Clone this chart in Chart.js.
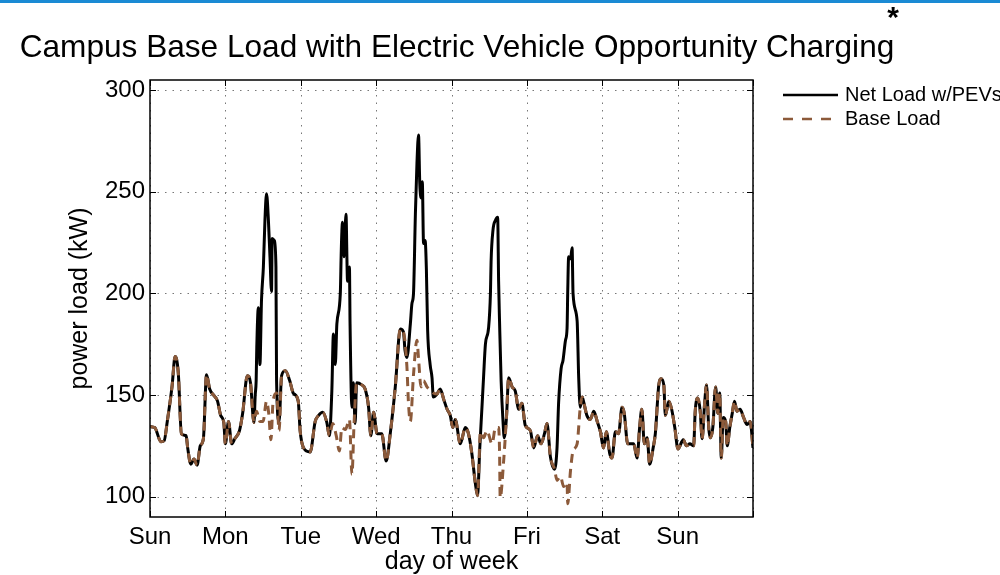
<!DOCTYPE html>
<html>
<head>
<meta charset="utf-8">
<script src="https://cdn.jsdelivr.net/npm/chart.js@4.4.1/dist/chart.umd.min.js"></script>
<style>
  body { margin: 0; background: #fff; }
  #wrap { width: 1000px; height: 575px; position: relative; }
</style>
</head>
<body>
<div id="wrap"><canvas id="load" width="1000" height="575"></canvas></div>
<script>
// day-of-week axis, hours from Sunday 00:00
const dayTicks = [0, 24, 48, 72, 96, 120, 144, 168, 192];
const dayLabels = ['Sun', 'Mon', 'Tue', 'Wed', 'Thu', 'Fri', 'Sat', 'Sun'];
const loadTicks = [100, 150, 200, 250, 300];

// campus base load (kW)
const baseHours = [
  0, 1.5, 3.5, 4.5, 5.5, 7, 8, 9, 10, 11.5, 12, 13, 14, 15, 16, 17, 18, 19, 20.5, 21.5, 22.5, 23.5,
  24, 25, 26, 27, 28.5, 29.5, 31, 32, 33.1, 33.9, 35, 36, 37.1, 37.8, 38.5, 39.2, 40.3, 41.1, 41.9, 43.1, 44.5, 45.6, 47.2,
  47.8, 48.9, 51, 52.6, 53.7, 55, 56.3, 57.1, 58.2, 59.3, 60.3, 61.1, 62.2, 63.5, 64.3, 65, 65.8, 67.4, 68.5, 69.6, 70.3, 71.2,
  72.3, 73.8, 75.2, 76.5, 78.1, 79.7, 80.7, 81.8, 82.3, 82.9, 83.9, 85, 85.5, 86.3, 87.1, 88.2, 89.2, 90.2, 91.4, 92.4, 93.5, 94.6, 95.6,
  96.4, 97.2, 98.8, 100.4, 101.4, 102.5, 103.6, 104.3, 105.2, 106.2, 107.3, 108.9, 110, 111, 111.3, 111.5, 112.6, 113.5, 114.2, 115.3, 116.3, 117.4, 118.4, 119.5,
  121.1, 122.2, 123.4, 124.5, 125.6, 126.4, 127.5, 128.8, 129.6, 130.7, 131.7, 132.8, 133, 133.9, 134.7, 136, 137, 137.6, 138.1, 139.1, 140.2, 141.3, 142.4, 143.4,
  144.4, 145.3, 146.4, 147.1, 148.2, 149.2, 150.3, 151, 152.1, 153.2, 154, 155.1, 155.9, 156.6, 157.4, 158.3, 159.1, 160.2, 160.9, 162, 162.7, 163.6, 164.1, 165.2, 166.1, 167.1,
  168.1, 169.8, 170.8, 171.9, 173.1, 173.6, 174.4, 175.2, 175.8, 176.6, 177.2, 177.9, 178.4, 179.2, 180.1, 180.8, 181.4, 181.9, 182.5, 183.3, 183.8, 184.6, 185.4, 186.1, 186.9, 187.9, 189, 190.1, 191.1, 192
];
const baseLoad = [
  134.5, 134, 127, 127.5, 137, 154, 169, 161, 131, 130, 124, 116, 118.5, 115.5, 125, 128.5, 160, 153, 149.5, 147, 140, 136.5,
  126, 137, 126, 128.5, 132.5, 141, 159.5, 156, 136.5, 142, 137, 137, 147, 141, 128, 147, 151, 132.5, 159.5, 162, 157, 151, 147,
  132.5, 124, 122, 137, 140, 141.5, 136.5, 130, 136, 130, 122.5, 134, 133, 138, 111, 137, 156, 155, 153, 144, 130, 141.5,
  131, 131, 117.5, 131, 154, 182.5, 181, 164, 146, 137, 160, 177, 168, 154, 157, 154, 152.5, 151, 150.5, 153, 148, 143, 140,
  134, 138, 126, 134, 131, 121, 106.5, 100.5, 132, 129, 132.5, 126, 134, 134, 122.5, 99.5, 117.5, 139, 158.5, 154, 152, 143, 146, 135,
  132.5, 124, 130, 126, 131, 136, 119.5, 113.5, 108, 110, 105, 107, 96.5, 113, 122.5, 126, 144, 149, 146.5, 140, 138, 142, 137, 132,
  124, 132, 121, 119, 132, 131, 144, 141, 126, 126, 126, 119, 134, 143, 126, 129, 116, 124, 131, 155, 158, 155, 140, 147, 143, 134,
  123.5, 128, 125, 126, 125, 142, 148.5, 142, 128.5, 146, 155, 134, 129, 134, 154, 141, 151, 119, 139, 137, 125, 134, 141, 147, 142, 143, 139, 135.5, 137, 124
];

// opportunity charging windows (hours) and the net load inside them (kW)
const chargeWindows = [[33.1, 41.9], [57.1, 65.8], [80.7, 91.4], [104.3, 113.5], [128.8, 137]];
const pevHours = [
  33.5, 33.8, 34, 34.5, 35, 35.5, 36.1, 36.6, 37.1, 37.7, 38.2, 38.7, 38.9, 39.6, 40.1, 40.3, 41.1,
  57.9, 58.4, 59, 59.5, 60.6, 60.9, 61.3, 61.8, 62.4, 62.9, 63.5, 63.7, 64.3, 64.8, 65.3,
  81.2, 81.8, 82.9, 83.4, 83.9, 84.5, 85, 85.5, 85.9, 86.4, 86.7, 87.1, 87.6, 88, 88.4, 89.2, 89.8, 90.2,
  105, 105.7, 106.2, 106.8, 107.8, 108.4, 108.6, 109.2, 110, 110.7, 111, 111.3, 111.8, 112.4, 112.8,
  129.6, 130.1, 130.9, 131.5, 132.3, 132.8, 133, 133.3, 133.9, 134.4, 134.7, 136, 136.5
];
const pevLoad = [
  150, 157, 173.5, 193, 165, 196.5, 213, 236, 249, 236, 218, 201, 227, 226, 213, 157, 137,
  152, 180, 165, 185, 200, 221, 235, 218, 239, 206, 213, 185, 144, 156, 136,
  172, 168.5, 185, 195, 200, 239, 264, 278, 254, 247, 255, 224.5, 226, 212, 182, 165, 158.5, 149,
  124, 144, 158.5, 175, 183, 200, 215.5, 231, 236, 237.5, 206, 186, 157, 137, 129,
  124, 146, 163, 167, 177, 183, 200, 218, 217, 222.5, 200, 186.5, 158.5
];

const BROWN = '#8c5a3a';

const basePts = baseHours.map((h, i) => ({ x: h, y: baseLoad[i] }));
const inWindow = h => chargeWindows.some(([a, b]) => h > a && h < b);
const netPts = basePts.filter(p => !inWindow(p.x))
  .concat(pevHours.map((h, i) => ({ x: h, y: pevLoad[i] })))
  .sort((a, b) => a.x - b.x);

// grid, box, inward ticks, title and legend in matlab style
const matlabFrame = {
  id: 'matlabFrame',
  beforeDraw(chart) {
    const ctx = chart.ctx;
    ctx.save();
    ctx.fillStyle = '#fff';
    ctx.fillRect(0, 0, chart.width, chart.height);
    ctx.fillStyle = '#1a8ad4';
    ctx.fillRect(0, 0, chart.width, 3);
    ctx.restore();
  },
  beforeDatasetsDraw(chart) {
    const { ctx, chartArea: a, scales } = chart;
    ctx.save();
    ctx.strokeStyle = '#777';
    ctx.lineWidth = 1;
    ctx.setLineDash([1.5, 6]);
    dayTicks.forEach(v => {
      const x = Math.round(scales.x.getPixelForValue(v)) + 0.5;
      ctx.beginPath(); ctx.moveTo(x, a.top); ctx.lineTo(x, a.bottom); ctx.stroke();
    });
    loadTicks.forEach(v => {
      const y = Math.round(scales.y.getPixelForValue(v)) + 0.5;
      ctx.beginPath(); ctx.moveTo(a.left, y); ctx.lineTo(a.right, y); ctx.stroke();
    });
    ctx.restore();
  },
  afterDatasetsDraw(chart) {
    const { ctx, chartArea: a, scales } = chart;
    ctx.save();
    ctx.strokeStyle = '#000';
    ctx.lineWidth = 1.5;
    ctx.strokeRect(a.left, a.top, a.right - a.left, a.bottom - a.top);
    ctx.lineWidth = 1;
    dayTicks.forEach(v => {
      const x = Math.round(scales.x.getPixelForValue(v)) + 0.5;
      ctx.beginPath();
      ctx.moveTo(x, a.bottom); ctx.lineTo(x, a.bottom - 6);
      ctx.moveTo(x, a.top); ctx.lineTo(x, a.top + 6);
      ctx.stroke();
    });
    loadTicks.forEach(v => {
      const y = Math.round(scales.y.getPixelForValue(v)) + 0.5;
      ctx.beginPath();
      ctx.moveTo(a.left, y); ctx.lineTo(a.left + 6, y);
      ctx.moveTo(a.right, y); ctx.lineTo(a.right - 6, y);
      ctx.stroke();
    });
    ctx.restore();
  },
  afterDraw(chart) {
    const ctx = chart.ctx;
    ctx.save();
    ctx.fillStyle = '#000';
    ctx.textBaseline = 'middle';
    ctx.textAlign = 'center';
    ctx.font = '31.6px "Liberation Sans", Arial, sans-serif';
    ctx.fillText('Campus Base Load with Electric Vehicle Opportunity Charging', 457, 48);
    ctx.font = 'bold 30px "Liberation Sans", Arial, sans-serif';
    ctx.fillText('*', 893, 19);

    // legend
    ctx.textAlign = 'left';
    ctx.font = '20px "Liberation Sans", Arial, sans-serif';
    ctx.lineWidth = 2.5;
    ctx.strokeStyle = '#000';
    ctx.beginPath(); ctx.moveTo(783, 95); ctx.lineTo(838, 95); ctx.stroke();
    ctx.fillText('Net Load w/PEVs', 845, 95);
    ctx.strokeStyle = BROWN;
    ctx.setLineDash([10, 9]);
    ctx.beginPath(); ctx.moveTo(783, 119); ctx.lineTo(838, 119); ctx.stroke();
    ctx.fillText('Base Load', 845, 119);
    ctx.restore();
  }
};

const tickFont = { family: '"Liberation Sans", Arial, sans-serif', size: 24 };
const titleFont = { family: '"Liberation Sans", Arial, sans-serif', size: 25 };

new Chart(document.getElementById('load'), {
  type: 'line',
  data: {
    datasets: [
      {
        label: 'Base Load',
        data: basePts,
        borderColor: BROWN,
        borderWidth: 3,
        borderDash: [9, 6],
        pointRadius: 0,
        cubicInterpolationMode: 'monotone',
        order: 0
      },
      {
        label: 'Net Load w/PEVs',
        data: netPts,
        borderColor: '#000',
        borderWidth: 3,
        pointRadius: 0,
        cubicInterpolationMode: 'monotone',
        order: 1
      }
    ]
  },
  options: {
    responsive: false,
    animation: false,
    layout: { padding: { left: 65, right: 247, top: 80, bottom: 0 } },
    plugins: {
      legend: { display: false },
      tooltip: { enabled: false }
    },
    scales: {
      x: {
        type: 'linear',
        min: 0,
        max: 192,
        grid: { display: false, drawTicks: false },
        border: { display: false },
        afterBuildTicks: s => { s.ticks = dayTicks.map(v => ({ value: v })); },
        afterFit: s => { s.height = 58; },
        ticks: {
          color: '#000',
          font: tickFont,
          padding: 6,
          maxRotation: 0,
          autoSkip: false,
          callback: v => dayLabels[dayTicks.indexOf(v)] || ''
        },
        title: { display: true, text: 'day of week', color: '#000', font: titleFont, padding: { top: 0, bottom: -2 } }
      },
      y: {
        min: 90,
        max: 305,
        grid: { display: false, drawTicks: false },
        border: { display: false },
        afterBuildTicks: s => { s.ticks = loadTicks.map(v => ({ value: v })); },
        afterFit: s => { s.width = 85; },
        ticks: { color: '#000', font: tickFont, padding: 5 },
        title: { display: true, text: 'power load (kW)', color: '#000', font: titleFont, padding: 0 }
      }
    }
  },
  plugins: [matlabFrame]
});
</script>
</body>
</html>
